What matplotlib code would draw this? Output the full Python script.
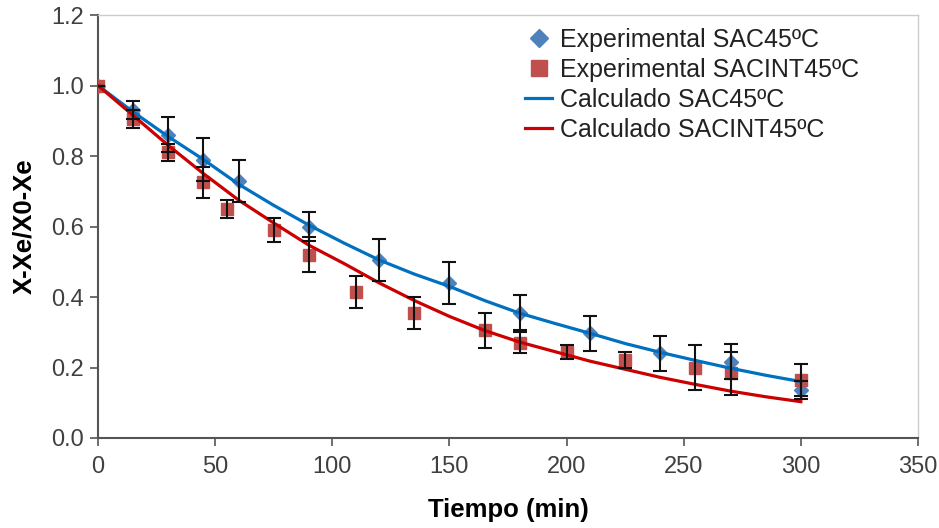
import matplotlib as mpl
import matplotlib.pyplot as plt
import numpy as np

mpl.rcParams["font.family"] = ["Liberation Sans", "DejaVu Sans"]

t_sac = [0, 15, 30, 45, 60, 90, 120, 150, 180, 210, 240, 270, 300]
y_sac = [1.0, 0.93, 0.86, 0.79, 0.73, 0.60, 0.505, 0.44, 0.355, 0.297, 0.24, 0.217, 0.136]
e_sac = [0.0, 0.025, 0.05, 0.06, 0.06, 0.04, 0.06, 0.06, 0.05, 0.05, 0.05, 0.05, 0.025]

t_int = [0, 15, 30, 45, 55, 75, 90, 110, 135, 165, 180, 200, 225, 255, 270, 300]
y_int = [1.0, 0.905, 0.81, 0.725, 0.65, 0.59, 0.52, 0.415, 0.355, 0.306, 0.27, 0.245, 0.222, 0.20, 0.183, 0.165]
e_int = [0.0, 0.025, 0.025, 0.045, 0.025, 0.035, 0.05, 0.045, 0.045, 0.05, 0.03, 0.02, 0.022, 0.065, 0.06, 0.045]

# Calculated curves
t_calc = [0, 15, 30, 45, 60, 75, 90, 105, 120, 135, 150, 165, 180, 195, 210, 225, 240, 255, 270, 285, 300]
c_sac = [1.0, 0.925, 0.855, 0.79, 0.72, 0.66, 0.604, 0.553, 0.505, 0.465, 0.43, 0.39, 0.354, 0.325,
         0.297, 0.268, 0.243, 0.22, 0.198, 0.178, 0.16]
c_int = [1.0, 0.915, 0.83, 0.75, 0.675, 0.61, 0.547, 0.495, 0.44, 0.39, 0.345, 0.305, 0.272, 0.245,
         0.218, 0.195, 0.172, 0.152, 0.133, 0.117, 0.103]

fig = plt.figure(figsize=(9.39, 5.28), dpi=100)
ax = fig.add_axes([98 / 939, 1 - 438 / 528, 820 / 939, 423 / 528])

ax.plot(t_sac, y_sac, "D", color="#4F81BD", markersize=7, zorder=3, label="Experimental SAC45ºC")
ax.plot(t_int, y_int, "s", color="#C0504D", markersize=8.5, zorder=3, label="Experimental SACINT45ºC")
ax.errorbar(t_sac, y_sac, yerr=e_sac, fmt="none", ecolor="#111111", elinewidth=1.5, capsize=5, capthick=1.5, zorder=5)
ax.errorbar(t_int, y_int, yerr=e_int, fmt="none", ecolor="#111111", elinewidth=1.5, capsize=5, capthick=1.5, zorder=5)
ax.plot(t_calc, c_sac, "-", color="#0070C0", lw=2.3, zorder=4, label="Calculado SAC45ºC")
ax.plot(t_calc, c_int, "-", color="#CC0000", lw=2.3, zorder=4, label="Calculado SACINT45ºC")

ax.set_xlim(0, 350)
ax.set_ylim(0, 1.2)
ax.set_xticks(np.arange(0, 351, 50))
ax.set_yticks(np.arange(0, 1.21, 0.2))
ax.set_yticklabels([f"{v:.1f}" for v in np.arange(0, 1.21, 0.2)])

for s in ["left", "bottom"]:
    ax.spines[s].set_color("#555555")
    ax.spines[s].set_linewidth(1.5)
for s in ["top", "right"]:
    ax.spines[s].set_color("#cccccc")
    ax.spines[s].set_linewidth(1.0)

ax.tick_params(axis="both", direction="out", length=6, width=1.2, color="#555555",
               labelsize=17, labelcolor="#404040")
ax.tick_params(axis="x", pad=7)
ax.tick_params(axis="y", pad=4)

ax.set_xlabel("Tiempo (min)", fontsize=18.5, fontweight="bold", labelpad=14)
ax.set_ylabel("X-Xe/X0-Xe", fontsize=18.5, fontweight="bold", labelpad=11)

leg = ax.legend(loc="upper left", bbox_to_anchor=(0.5085, 0.993), frameon=False, fontsize=18,
                handlelength=1.1, handletextpad=0.3, labelspacing=0.24, borderaxespad=0,
                markerscale=1.3)
for txt in leg.get_texts():
    txt.set_color("#222222")

fig.savefig("out.png", dpi=100)
